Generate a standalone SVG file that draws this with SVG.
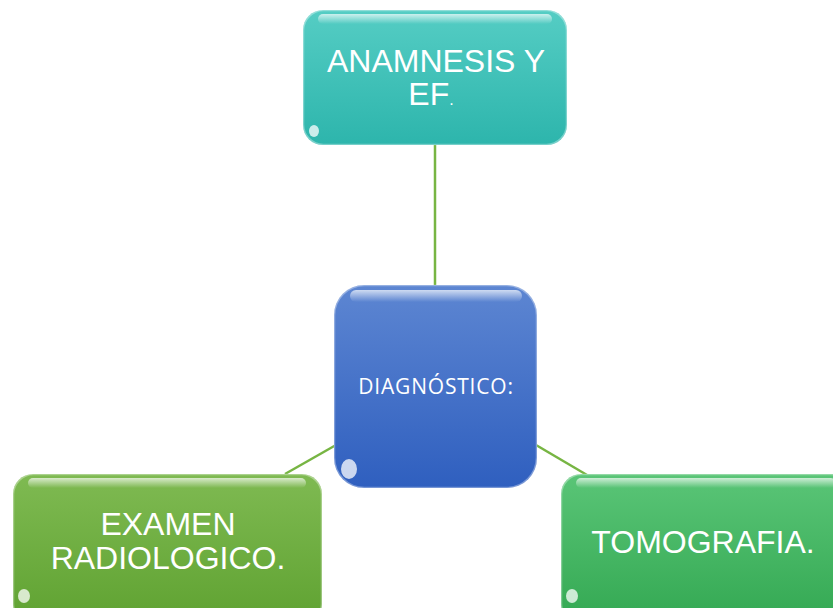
<svg xmlns="http://www.w3.org/2000/svg" width="833" height="608" viewBox="0 0 833 608">
<defs>
<linearGradient id="gTeal" x1="0" y1="0" x2="0" y2="1"><stop offset="0" stop-color="#55cdc4"/><stop offset="1" stop-color="#2db5ac"/></linearGradient>
<linearGradient id="gBlue" x1="0" y1="0" x2="0" y2="1"><stop offset="0" stop-color="#5d86d2"/><stop offset="1" stop-color="#2f5fbf"/></linearGradient>
<linearGradient id="gLeft" x1="0" y1="0" x2="0" y2="1"><stop offset="0" stop-color="#7fba52"/><stop offset="1" stop-color="#5fa231"/></linearGradient>
<linearGradient id="gRight" x1="0" y1="0" x2="0" y2="1"><stop offset="0" stop-color="#5ac577"/><stop offset="1" stop-color="#33a852"/></linearGradient>
<linearGradient id="shine" x1="0" y1="0" x2="0" y2="1"><stop offset="0" stop-color="#ffffff" stop-opacity="0.7"/><stop offset="1" stop-color="#ffffff" stop-opacity="0"/></linearGradient>
</defs>
<style>
.conn{stroke:#77b543;stroke-width:2.5;fill:none}
.lbl{font-family:"Liberation Sans",Arial,sans-serif;font-size:32px;fill:#ffffff;text-anchor:middle}
.lbl2{font-family:"Open Sans","Noto Sans",sans-serif;font-size:21px;letter-spacing:0.8px;fill:#ffffff;text-anchor:middle}
.shine{fill:url(#shine)}
.spot{fill:#ffffff;opacity:0.75}
.edge{fill:none;stroke:#ffffff;stroke-opacity:0.35;stroke-width:1.5}
</style>
<g id="connectors">
<line class="conn" x1="435" y1="145" x2="435" y2="287"/>
<line class="conn" x1="336" y1="445" x2="285" y2="474"/>
<line class="conn" x1="536" y1="445" x2="587" y2="475"/>
</g>
<g id="node-anamnesis">
<rect x="303" y="10" width="264" height="135" rx="20" fill="url(#gTeal)"/>
<rect x="318" y="14" width="234" height="10" rx="5" class="shine"/>
<rect x="303.5" y="10.5" width="263" height="134" rx="20" class="edge"/>
<ellipse cx="314" cy="131" rx="5" ry="6" class="spot"/>
<text class="lbl" x="436" y="72">ANAMNESIS Y</text>
<text class="lbl" x="431" y="105">EF<tspan font-size="16">.</tspan></text>
</g>
<g id="node-diagnostico">
<rect x="334" y="285" width="203" height="203" rx="30" fill="url(#gBlue)"/>
<rect x="350" y="290" width="172" height="12" rx="6" class="shine"/>
<rect x="334.5" y="285.5" width="202" height="202" rx="30" class="edge"/>
<ellipse cx="349" cy="469" rx="8" ry="10" class="spot"/>
<text class="lbl2" x="436" y="394">DIAGNÓSTICO:</text>
</g>
<g id="node-examen">
<rect x="13" y="474" width="309" height="150" rx="20" fill="url(#gLeft)"/>
<rect x="28" y="478" width="278" height="10" rx="5" class="shine"/>
<rect x="13.5" y="474.5" width="308" height="149" rx="20" class="edge"/>
<ellipse cx="24" cy="596" rx="6" ry="7" class="spot"/>
<text class="lbl" x="168" y="535">EXAMEN</text>
<text class="lbl" x="168" y="569">RADIOLOGICO.</text>
</g>
<g id="node-tomografia">
<rect x="561" y="474" width="290" height="150" rx="20" fill="url(#gRight)"/>
<rect x="576" y="478" width="260" height="10" rx="5" class="shine"/>
<rect x="561.5" y="474.5" width="289" height="149" rx="20" class="edge"/>
<ellipse cx="572" cy="596" rx="6" ry="7" class="spot"/>
<text class="lbl" x="703" y="553">TOMOGRAFIA.</text>
</g>
</svg>
